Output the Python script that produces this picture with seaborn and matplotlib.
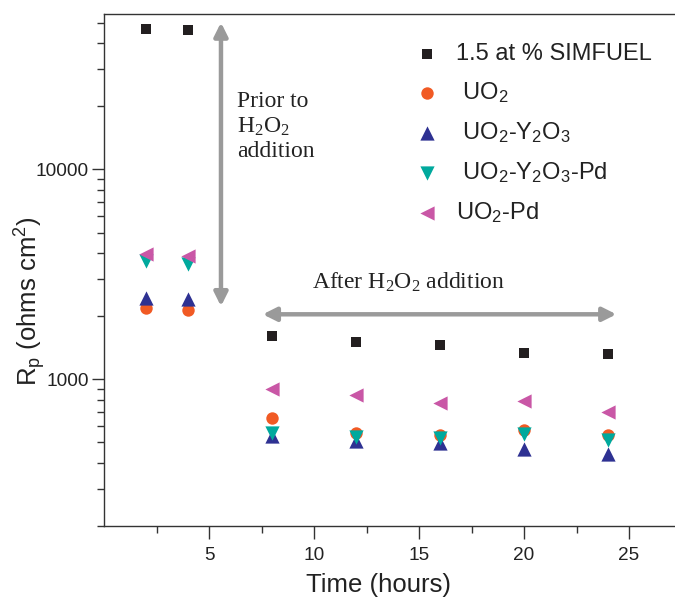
import matplotlib
matplotlib.use("Agg")
import matplotlib.pyplot as plt
import pandas as pd
import seaborn as sns

sns.set_style("ticks")
plt.rcParams["font.family"] = ["Liberation Sans", "DejaVu Sans"]
plt.rcParams["mathtext.default"] = "regular"

# Polarization resistance measurements (ohms cm^2) vs immersion time (hours)
hours = [2, 4, 8, 12, 16, 20, 24]
simfuel = [46800, 45900, 1607, 1506, 1457, 1333, 1325]
uo2 = [2180, 2140, 651, 555, 540, 571, 545]
uo2_y2o3 = [2436, 2420, 535, 509, 499, 463, 440]
uo2_y2o3_pd = [3650, 3540, 557, 531, 525, 550, 512]
uo2_pd = [3938, 3865, 896, 841, 769, 785, 699]

series_labels = ["1.5 at % SIMFUEL", " UO$_2$", " UO$_2$-Y$_2$O$_3$",
                 " UO$_2$-Y$_2$O$_3$-Pd", "UO$_2$-Pd"]
series_values = [simfuel, uo2, uo2_y2o3, uo2_y2o3_pd, uo2_pd]
colors = ["#231f20", "#f15a24", "#2e3192", "#00a99d", "#c957a6"]
markers = ["s", "o", "^", "v", "<"]
sizes = [55, 80, 105, 105, 105]
zorders = [6, 2, 3, 4, 5]

frames = [pd.DataFrame({"Time (hours)": hours, "Rp": vals, "sample": lab})
          for lab, vals in zip(series_labels, series_values)]
df = pd.concat(frames, ignore_index=True)

fig = plt.figure(figsize=(6.75, 5.99), dpi=100)
ax = fig.add_axes([104 / 675, 1 - 526 / 599, 571 / 675, 512 / 599])

for lab, col, mk, sz, zo in zip(series_labels, colors, markers, sizes, zorders):
    sub = df[df["sample"] == lab]
    sns.scatterplot(data=sub, x="Time (hours)", y="Rp", ax=ax, color=col,
                    marker=mk, s=sz, linewidth=0, label=lab, zorder=zo)

ax.set_yscale("log")
ax.set_ylim(200, 55000)
ax.set_xlim(0, 571 / 21)
ax.set_xticks([5, 10, 15, 20, 25])
ax.set_xticks([2.5, 7.5, 12.5, 17.5, 22.5], minor=True)
ax.set_yticks([1000, 10000])
ax.set_yticklabels(["1000", "10000"])

for side in ["left", "bottom", "top"]:
    ax.spines[side].set_linewidth(1.0)
    ax.spines[side].set_color("#333333")
ax.spines["right"].set_visible(False)

ax.tick_params(axis="both", which="major", length=9, width=1.0,
               color="#333333", labelsize=13.7, labelcolor="#222222", pad=2)
ax.tick_params(axis="both", which="minor", length=5, width=1.0, color="#333333")
ax.tick_params(axis="x", which="major", pad=6)
ax.tick_params(axis="y", which="minor", labelleft=False)

ax.set_xlabel("Time (hours)", fontsize=18.5, color="#222222")
ax.set_ylabel("R$_p$ (ohms cm$^2$)", fontsize=18.5, color="#222222")
ax.xaxis.set_label_coords((379 - 104) / 571, -0.092)
ax.yaxis.set_label_coords(-0.098, 0.44)

# Double-headed arrows marking the two stages
arrow_kw = dict(arrowstyle="<|-|>", color="#9a9a9a", lw=3.2,
                mutation_scale=20, shrinkA=0, shrinkB=0)
ax.annotate("", xy=(5.57, 2228), xytext=(5.57, 50100), arrowprops=arrow_kw)
ax.annotate("", xy=(7.56, 2040), xytext=(24.4, 2040), arrowprops=arrow_kw)

serif = ["Liberation Serif", "DejaVu Serif"]
ax.text(6.33, 23600, "Prior to\nH$_2$O$_2$\naddition", fontsize=17,
        family=serif, ha="left", va="top", color="#222222", linespacing=1.2)
ax.text(14.48, 2711, "After H$_2$O$_2$ addition", fontsize=17,
        family=serif, ha="center", va="baseline", color="#222222")

leg = ax.legend(loc="upper left", bbox_to_anchor=(415 / 675, 1 - 43 / 599),
                bbox_transform=fig.transFigure, frameon=False, fontsize=17,
                handlelength=1.0, handletextpad=0.75, borderpad=0,
                borderaxespad=0, labelspacing=0.64)
for t in leg.get_texts():
    t.set_color("#222222")

fig.savefig("out.png", dpi=100)
